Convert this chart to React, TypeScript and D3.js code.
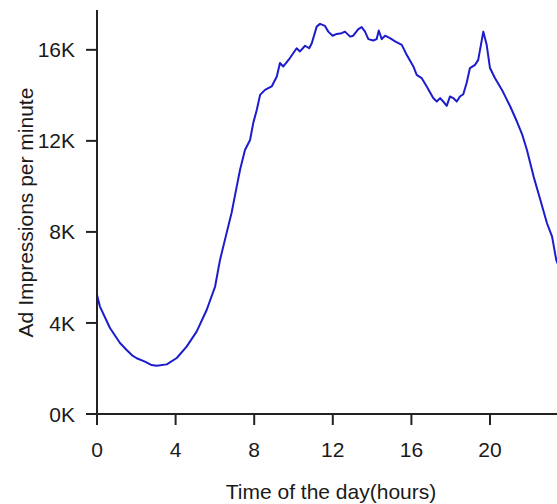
import React from "react";
import * as d3 from "d3";

const hours = [
  0, 0.15, 0.66, 1.17, 1.51, 1.77, 2.02, 2.44, 2.78, 3.04, 3.55, 4.06, 4.56, 5.07, 5.58, 6.01,
  6.26, 6.51, 6.85, 7.11, 7.28, 7.53, 7.79, 7.95, 8.13, 8.3, 8.55, 8.89, 9.15, 9.31, 9.48, 9.82,
  10.16, 10.33, 10.59, 10.8, 10.93, 11.18, 11.35, 11.6, 11.77, 11.99, 12.2, 12.45, 12.62, 12.88,
  13.04, 13.3, 13.47, 13.64, 13.81, 14.06, 14.23, 14.34, 14.49, 14.66, 14.91, 15.17, 15.51, 15.76,
  16.1, 16.27, 16.52, 16.78, 17.11, 17.29, 17.46, 17.62, 17.8, 17.96, 18.13, 18.31, 18.47, 18.64,
  18.81, 18.98, 19.24, 19.4, 19.66, 19.83, 20.0, 20.25, 20.61, 21.03, 21.37, 21.63, 21.88, 22.22,
  22.56, 22.9, 23.16, 23.37, 23.45,
];

const impressions = [
  5230, 4720, 3780, 3120, 2810, 2590, 2450, 2300, 2150, 2120, 2180, 2460, 2960, 3620, 4570, 5600,
  6770, 7650, 8840, 9990, 10730, 11600, 12040, 12780, 13360, 14020, 14240, 14390, 14830, 15420, 15270, 15640,
  16070, 15930, 16180, 16070, 16290, 17020, 17140, 17050, 16800, 16620, 16700, 16730, 16800, 16580,
  16620, 16910, 17000, 16800, 16470, 16410, 16470, 16850, 16470, 16620, 16510, 16370, 16220, 15780,
  15270, 14900, 14760, 14390, 13880, 13730, 13880, 13730, 13540, 13950, 13880, 13730, 13950, 14050,
  14540, 15200, 15340, 15560, 16800, 16220, 15200, 14760, 14240, 13510, 12850, 12300, 11600, 10430,
  9410, 8380, 7790, 6770, 6600,
];

const xTicks = [0, 4, 8, 12, 16, 20];
const yTicks = [0, 4000, 8000, 12000, 16000];
const yTickLabels = ["0K", "4K", "8K", "12K", "16K"];

const W = 557;
const H = 504;

export default function App() {
  const x = d3.scaleLinear().domain([0, 24]).range([97, 568.6]);
  const y = d3.scaleLinear().domain([0, 17750]).range([414, 10]);
  const data = hours.map((h, i) => [h, impressions[i]] as [number, number]);
  const line = d3
    .line<[number, number]>()
    .x((d) => x(d[0]))
    .y((d) => y(d[1]));
  const axisColor = "#222";
  const font = "'Liberation Sans', Arial, Helvetica, sans-serif";
  return (
    <svg
      width={W}
      height={H}
      style={{ position: "absolute", left: 0, top: 0, display: "block", background: "#fff" }}
      fontFamily={font}
    >
      <path d={line(data) || ""} fill="none" stroke="#1c1ccc" strokeWidth={2} strokeLinejoin="round" />
      {/* y axis */}
      <line x1={x(0)} x2={x(0)} y1={y(17750)} y2={y(0)} stroke={axisColor} strokeWidth={2} />
      {yTicks.map((t, i) => (
        <g key={t}>
          <line x1={x(0) - 11} x2={x(0)} y1={y(t)} y2={y(t)} stroke={axisColor} strokeWidth={2} />
          <text x={75} y={y(t)} dy="0.36em" textAnchor="end" fontSize={21} fill="#1a1a1a">
            {yTickLabels[i]}
          </text>
        </g>
      ))}
      {/* x axis */}
      <line x1={x(0) - 1} x2={W} y1={y(0)} y2={y(0)} stroke={axisColor} strokeWidth={2} />
      {xTicks.map((t) => (
        <g key={t}>
          <line x1={x(t)} x2={x(t)} y1={y(0)} y2={y(0) + 11} stroke={axisColor} strokeWidth={2} />
          <text x={x(t)} y={456.5} textAnchor="middle" fontSize={21} fill="#1a1a1a">
            {t}
          </text>
        </g>
      ))}
      <text x={331} y={499} textAnchor="middle" fontSize={21} fill="#1a1a1a">
        Time of the day(hours)
      </text>
      <text
        transform="translate(32.5,212.5) rotate(-90)"
        textAnchor="middle"
        fontSize={21}
        fill="#1a1a1a"
      >
        Ad Impressions per minute
      </text>
    </svg>
  );
}
